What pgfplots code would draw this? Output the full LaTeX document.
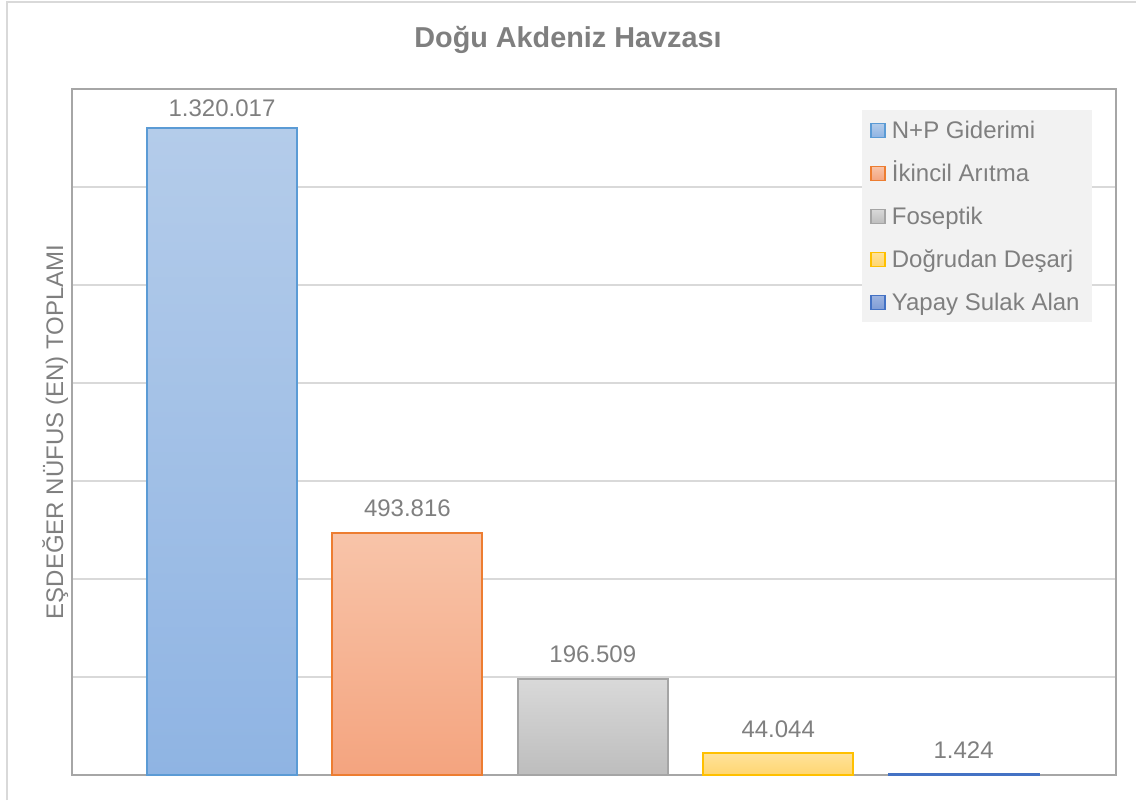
\documentclass[border=0pt]{standalone}
\usepackage{pgfplots}
\pgfplotsset{compat=1.18}
\usepackage{fontspec}
\setmainfont{Liberation Sans}
\definecolor{txtgray}{HTML}{7F7F7F}
\definecolor{axgray}{HTML}{A6A6A6}
\definecolor{grdgray}{HTML}{D9D9D9}
\definecolor{frgray}{HTML}{D9D9D9}
\definecolor{leggray}{HTML}{F2F2F2}
\definecolor{bBlue}{HTML}{5B9BD5}\definecolor{tBlue}{HTML}{B4CCEA}\definecolor{uBlue}{HTML}{8FB4E3}
\definecolor{bOr}{HTML}{ED7D31}\definecolor{tOr}{HTML}{F8C4A9}\definecolor{uOr}{HTML}{F4A47F}
\definecolor{bGr}{HTML}{A5A5A5}\definecolor{tGr}{HTML}{D9D9D9}\definecolor{uGr}{HTML}{BDBDBD}
\definecolor{bYe}{HTML}{FFC000}\definecolor{tYe}{HTML}{FFE29A}\definecolor{uYe}{HTML}{FFD670}
\definecolor{bDb}{HTML}{4472C4}\definecolor{tDb}{HTML}{9DB4E0}\definecolor{uDb}{HTML}{7F9CD6}
\begin{document}
\begin{tikzpicture}
\useasboundingbox (0,0) rectangle (568pt,400pt);
\draw[frgray, line width=1pt] (3.5pt,0pt) -- (3.5pt,399pt) -- (568pt,399pt);
\node[font=\bfseries\fontsize{14.4}{17}\selectfont, text=txtgray, anchor=base] at (284pt,376pt) {Doğu Akdeniz Havzası};
\node[font=\fontsize{12}{14}\selectfont, text=txtgray, anchor=base, rotate=90] at (31.5pt,184pt) {EŞDEĞER NÜFUS (EN) TOPLAMI};
\begin{axis}[
  at={(36pt,12.5pt)}, anchor=south west,
  scale only axis, width=522pt, height=343pt,
  ybar, bar width=75pt, bar shift=0pt,
  xmin=-0.809, xmax=4.822,
  ymin=0, ymax=1400000,
  scaled y ticks=false,
  ytick={0,200000,400000,600000,800000,1000000,1200000,1400000},
  yticklabels={}, xtick=\empty,
  major tick length=0pt,
  ymajorgrids,
  major grid style={draw=grdgray, line width=0.75pt},
  axis line style={draw=axgray, line width=1pt},
  point meta=explicit symbolic,
  nodes near coords,
  nodes near coords style={font=\fontsize{12}{14}\selectfont, text=txtgray, anchor=south, inner sep=0pt, yshift=7.5pt},
  legend image code/.code={\draw[#1, line width=0.75pt] (0pt,-3.5pt) rectangle (7pt,3.5pt);},
  legend style={at={(0.7567,0.9694)}, anchor=north west, draw=none, fill=leggray,
    font=\fontsize{12}{14}\selectfont, text=txtgray,
    inner xsep=4pt, inner ysep=3.7pt, row sep=8.9pt, column sep=1pt,
    nodes={inner sep=2pt, text height=8.6pt, text depth=0pt},
    cells={anchor=west}},
  legend cell align=left,
]
\addplot[draw=bBlue, line width=1pt, top color=tBlue, bottom color=uBlue, nodes near coords style={yshift=-2.5pt}] coordinates {(0,1320017) [1.320.017]};
\addlegendentry{N+P Giderimi}
\addplot[draw=bOr, line width=1pt, top color=tOr, bottom color=uOr] coordinates {(1,493816) [493.816]};
\addlegendentry{İkincil Arıtma}
\addplot[draw=bGr, line width=1pt, top color=tGr, bottom color=uGr] coordinates {(2,196509) [196.509]};
\addlegendentry{Foseptik}
\addplot[draw=bYe, line width=1pt, top color=tYe, bottom color=uYe] coordinates {(3,44044) [44.044]};
\addlegendentry{Doğrudan Deşarj}
\addplot[draw=bDb, line width=1pt, top color=tDb, bottom color=uDb] coordinates {(4,1424) [1.424]};
\addlegendentry{Yapay Sulak Alan}
\end{axis}
\end{tikzpicture}
\end{document}
